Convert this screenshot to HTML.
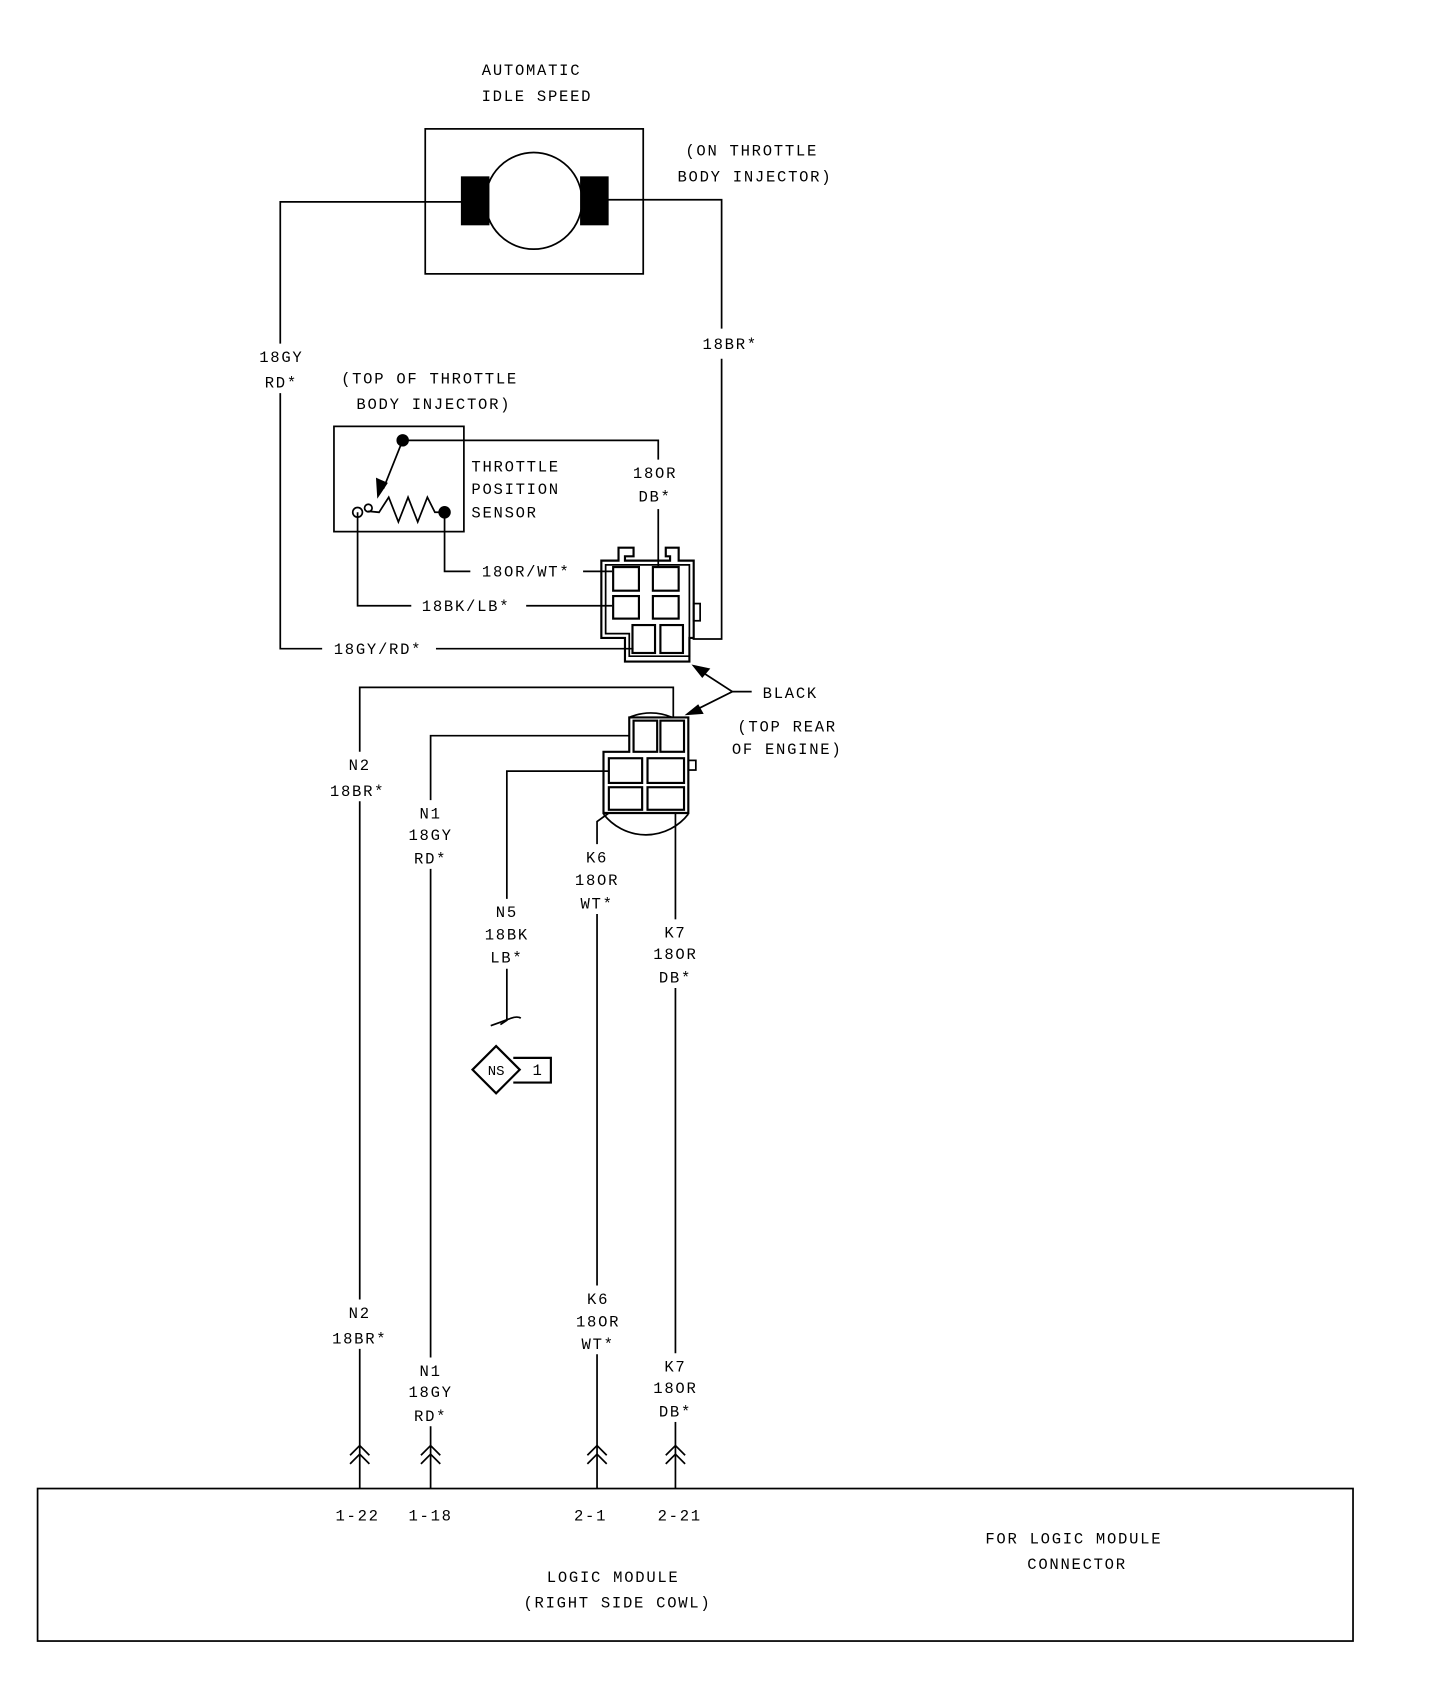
<!DOCTYPE html>
<html><head><meta charset="utf-8"><style>
html,body{margin:0;padding:0;background:#fff}
svg{display:block}
text{font-family:"Liberation Mono","DejaVu Sans Mono",monospace;font-size:14.5px;letter-spacing:1.6px;fill:#000;text-anchor:middle}
</style></head><body>
<svg width="1440" height="1684" viewBox="0 0 1341 1568" preserveAspectRatio="none" xmlns="http://www.w3.org/2000/svg">
<g fill="none" stroke="#000" stroke-width="1.6">
<rect x="396" y="120" width="203" height="135"/>
<circle cx="497" cy="187" r="45"/>
<rect x="430" y="165" width="25" height="44" fill="#000"/>
<rect x="541" y="165" width="25" height="44" fill="#000"/>
<polyline points="430,188 261,188 261,320"/>
<polyline points="261,366 261,604 300,604"/>
<line x1="406" y1="604" x2="590" y2="604"/>
<polyline points="566,186 672,186 672,306"/>
<polyline points="672,334 672,595 645,595"/>
<rect x="311" y="397" width="121" height="98"/>
<polyline points="375,410 613,410 613,428"/>
<line x1="613" y1="474" x2="613" y2="528"/>
<line x1="375" y1="410" x2="357" y2="455"/>
<polygon points="352,462 351,446 360,450" fill="#000"/>
<polyline points="343,476 353,477 362,463 371,486 380,463 389,486 398,463 405,477 414,477"/>
<circle cx="375" cy="410" r="5" fill="#000"/>
<circle cx="414" cy="477" r="5" fill="#000"/>
<circle cx="333" cy="477" r="4.5"/>
<circle cx="343" cy="473" r="3.5"/>
<polyline points="414,477 414,532 438,532"/>
<line x1="543" y1="532" x2="570" y2="532"/>
<polyline points="333,477 333,564 383,564"/>
<line x1="490" y1="564" x2="570" y2="564"/>
<path d="M560,522 L576,522 L576,510 L590,510 L590,518 L582,518 L582,522 L624,522 L624,518 L620,518 L620,510 L632,510 L632,522 L646,522 L646,594 L642,594 L642,616 L582,616 L582,594 L560,594 Z" stroke-width="2"/>
<path d="M564,526 L642,526 L642,611 L586,611 L586,590 L564,590 Z"/>
<rect x="571" y="528" width="24" height="22" stroke-width="2"/>
<rect x="608" y="528" width="24" height="22" stroke-width="2"/>
<rect x="571" y="555" width="24" height="21" stroke-width="2"/>
<rect x="608" y="555" width="24" height="21" stroke-width="2"/>
<rect x="589" y="582" width="21" height="26" stroke-width="2"/>
<rect x="615" y="582" width="21" height="26" stroke-width="2"/>
<rect x="646" y="562" width="6" height="16"/>
<polyline points="648,622 682,644 640,665"/>
<line x1="682" y1="644" x2="700" y2="644"/>
<polygon points="646,620 660,623 654,630" fill="#000"/>
<polygon points="640,665 650,657 654,664" fill="#000"/>
<path d="M586,668 A50,50 0 0 1 626,668"/>
<path d="M562,758 A50,50 0 0 0 641,758"/>
<path d="M586,668 L641,668 L641,757 L562,757 L562,700 L586,700 Z" stroke-width="2"/>
<rect x="590" y="671" width="22" height="29" stroke-width="2"/>
<rect x="615" y="671" width="22" height="29" stroke-width="2"/>
<rect x="567" y="706" width="31" height="23" stroke-width="2"/>
<rect x="603" y="706" width="34" height="23" stroke-width="2"/>
<rect x="567" y="733" width="31" height="21" stroke-width="2"/>
<rect x="603" y="733" width="34" height="21" stroke-width="2"/>
<rect x="641" y="708" width="7" height="9"/>
<polyline points="627,668 627,640 335,640 335,700"/>
<line x1="335" y1="746" x2="335" y2="1210"/>
<line x1="335" y1="1256" x2="335" y2="1386"/>
<polyline points="586,685 401,685 401,745"/>
<line x1="401" y1="809" x2="401" y2="1264"/>
<line x1="401" y1="1328" x2="401" y2="1386"/>
<polyline points="567,718 472,718 472,837"/>
<polyline points="472,902 472,950 466,954"/>
<path d="M457,955 Q466,952 476,948 Q482,946 485,948"/>
<polygon points="462,974 484,996 462,1018 440,996" stroke-width="2"/>
<polyline points="478,985 513,985 513,1008 478,1008" stroke-width="2"/>
<polyline points="567,757 556,765 556,786"/>
<line x1="556" y1="851" x2="556" y2="1197"/>
<line x1="556" y1="1261" x2="556" y2="1386"/>
<line x1="629" y1="757" x2="629" y2="856"/>
<line x1="629" y1="920" x2="629" y2="1260"/>
<line x1="629" y1="1324" x2="629" y2="1386"/>
<g stroke-width="1.6">
<polyline points="326,1355 335,1346 344,1355"/><polyline points="326,1363 335,1354 344,1363"/>
<polyline points="392,1355 401,1346 410,1355"/><polyline points="392,1363 401,1354 410,1363"/>
<polyline points="547,1355 556,1346 565,1355"/><polyline points="547,1363 556,1354 565,1363"/>
<polyline points="620,1355 629,1346 638,1355"/><polyline points="620,1363 629,1354 638,1363"/>
</g>
<rect x="35" y="1386" width="1225" height="142"/>
</g>
<text x="495" y="70">AUTOMATIC</text>
<text x="500" y="94">IDLE SPEED</text>
<text x="700" y="145">(ON THROTTLE</text>
<text x="703" y="169">BODY INJECTOR)</text>
<text x="262" y="337">18GY</text>
<text x="262" y="361">RD*</text>
<text x="680" y="325">18BR*</text>
<text x="400" y="357">(TOP OF THROTTLE</text>
<text x="404" y="381">BODY INJECTOR)</text>
<text x="439" y="439" style="text-anchor:start">THROTTLE</text>
<text x="439" y="460" style="text-anchor:start">POSITION</text>
<text x="439" y="482" style="text-anchor:start">SENSOR</text>
<text x="610" y="445">18OR</text>
<text x="610" y="467">DB*</text>
<text x="490" y="537">18OR/WT*</text>
<text x="434" y="569">18BK/LB*</text>
<text x="352" y="609">18GY/RD*</text>
<text x="736" y="650">BLACK</text>
<text x="733" y="681">(TOP REAR</text>
<text x="733" y="702">OF ENGINE)</text>
<text x="335" y="717">N2</text><text x="333" y="741">18BR*</text>
<text x="401" y="762">N1</text><text x="401" y="782">18GY</text><text x="401" y="804">RD*</text>
<text x="472" y="854">N5</text><text x="472" y="875">18BK</text><text x="472" y="896">LB*</text>
<text x="556" y="803">K6</text><text x="556" y="824">18OR</text><text x="556" y="846">WT*</text>
<text x="629" y="873">K7</text><text x="629" y="893">18OR</text><text x="629" y="915">DB*</text>
<text x="462" y="1001" style="font-size:13px;letter-spacing:0">NS</text>
<text x="501" y="1001">1</text>
<text x="335" y="1227">N2</text><text x="335" y="1251">18BR*</text>
<text x="401" y="1281">N1</text><text x="401" y="1301">18GY</text><text x="401" y="1323">RD*</text>
<text x="557" y="1214">K6</text><text x="557" y="1235">18OR</text><text x="557" y="1256">WT*</text>
<text x="629" y="1277">K7</text><text x="629" y="1297">18OR</text><text x="629" y="1319">DB*</text>
<text x="333" y="1416">1-22</text>
<text x="401" y="1416">1-18</text>
<text x="550" y="1416">2-1</text>
<text x="633" y="1416">2-21</text>
<text x="1000" y="1437">FOR LOGIC MODULE</text>
<text x="1003" y="1461">CONNECTOR</text>
<text x="571" y="1473">LOGIC MODULE</text>
<text x="575" y="1497">(RIGHT SIDE COWL)</text>
</svg>
</body></html>
